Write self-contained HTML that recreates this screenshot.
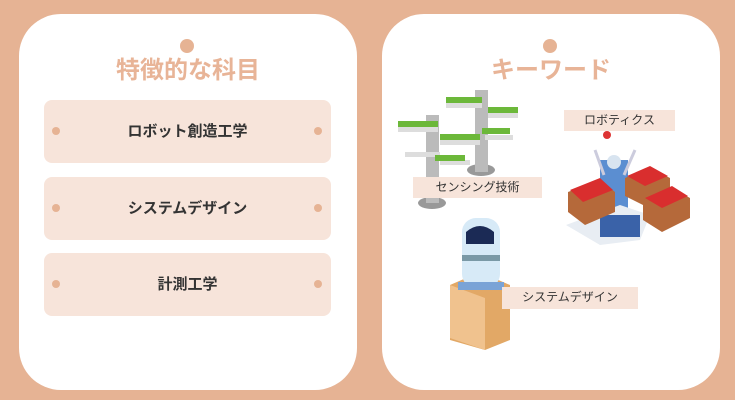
<!DOCTYPE html><html><head><meta charset="utf-8"><style>
body{margin:0;width:735px;height:400px;background:#e6b394;position:relative;overflow:hidden;font-family:"Liberation Sans","Noto Sans CJK JP",sans-serif}
.card{position:absolute;top:14px;width:338px;height:376px;background:#fff;border-radius:42px}
.dot{position:absolute;top:25px;width:14px;height:14px;border-radius:50%;background:#e6b394}
.title{position:absolute;top:36px;width:100%;text-align:center;font-size:24px;font-weight:bold;color:#e8b497}
.btn{position:absolute;left:25px;width:287px;height:63px;background:#f7e4da;border-radius:8px;text-align:center;line-height:63px;font-size:15px;font-weight:bold;color:#333}
.btn:before,.btn:after{content:"";position:absolute;top:27px;width:8px;height:8px;border-radius:50%;background:#e6b394}
.btn:before{left:8px}.btn:after{right:9px}
.lbl{position:absolute;background:#f7e4da;font-size:12px;color:#333;text-align:center;height:21px;line-height:21px}
</style></head><body>
<div class="card" style="left:19px"><div class="dot" style="left:161px"></div><div class="title">特徴的な科目</div>
<div class="btn" style="top:86px">ロボット創造工学</div>
<div class="btn" style="top:163px">システムデザイン</div>
<div class="btn" style="top:239px">計測工学</div></div>
<div class="card" style="left:382px"><div class="dot" style="left:161px"></div><div class="title">キーワード</div></div>
<svg style="position:absolute;left:0;top:0" width="735" height="400">
<ellipse cx="432" cy="203" rx="14" ry="6" fill="#999"/><rect x="426" y="115" width="13" height="88" fill="#bbb"/>
<ellipse cx="481" cy="170" rx="14" ry="6" fill="#999"/><rect x="475" y="90" width="13" height="82" fill="#bbb"/>
<g fill="#ddd"><rect x="398" y="127" width="40" height="5"/><rect x="446" y="103" width="36" height="5"/><rect x="488" y="113" width="30" height="5"/><rect x="440" y="140" width="40" height="5"/><rect x="405" y="152" width="35" height="5"/><rect x="440" y="160" width="30" height="5"/><rect x="485" y="135" width="28" height="5"/></g>
<g fill="#6cb83a"><rect x="398" y="121" width="40" height="6"/><rect x="446" y="97" width="36" height="6"/><rect x="488" y="107" width="30" height="6"/><rect x="440" y="134" width="40" height="6"/><rect x="435" y="155" width="30" height="6"/><rect x="482" y="128" width="28" height="6"/></g>
<rect x="600" y="160" width="28" height="70" fill="#5b8ed1"/><circle cx="614" cy="162" r="7" fill="#d8e4f0"/>
<path d="M595 150 L604 175 M635 150 L624 175" stroke="#ccd" stroke-width="3"/><circle cx="607" cy="135" r="4" fill="#d33"/>
<path d="M566 225 L620 205 L650 215 L640 240 L600 245 Z" fill="#e8edf3"/><rect x="600" y="215" width="40" height="22" fill="#3a62a8"/>
<g fill="#b5693a"><path d="M568 192 L600 180 L615 192 L615 212 L585 225 L568 212Z"/><path d="M625 178 L650 168 L670 178 L670 196 L645 206 L625 196Z"/><path d="M643 200 L672 188 L690 198 L690 218 L662 232 L643 220Z"/></g>
<g fill="#d92e2e"><path d="M570 190 L600 178 L613 190 L583 202Z"/><path d="M627 176 L650 166 L668 176 L645 186Z"/><path d="M645 198 L672 186 L688 196 L662 208Z"/></g>
<path d="M450 285 L480 272 L510 285 L510 340 L485 350 L450 340Z" fill="#e2a866"/><path d="M450 285 L485 298 L485 350 L450 338Z" fill="#f0c28e"/>
<rect x="462" y="218" width="38" height="70" rx="14" fill="#d7eaf7"/><path d="M466 232 Q480 220 494 232 L494 244 L466 244Z" fill="#1b2a55"/><rect x="462" y="255" width="38" height="6" fill="#7a99a6"/><rect x="458" y="282" width="46" height="8" fill="#7aa3d6"/>
</svg>
<div class="lbl" style="left:413px;top:177px;width:129px">センシング技術</div>
<div class="lbl" style="left:564px;top:110px;width:111px">ロボティクス</div>
<div class="lbl" style="left:502px;top:287px;width:136px;height:22px">システムデザイン</div>
</body></html>
